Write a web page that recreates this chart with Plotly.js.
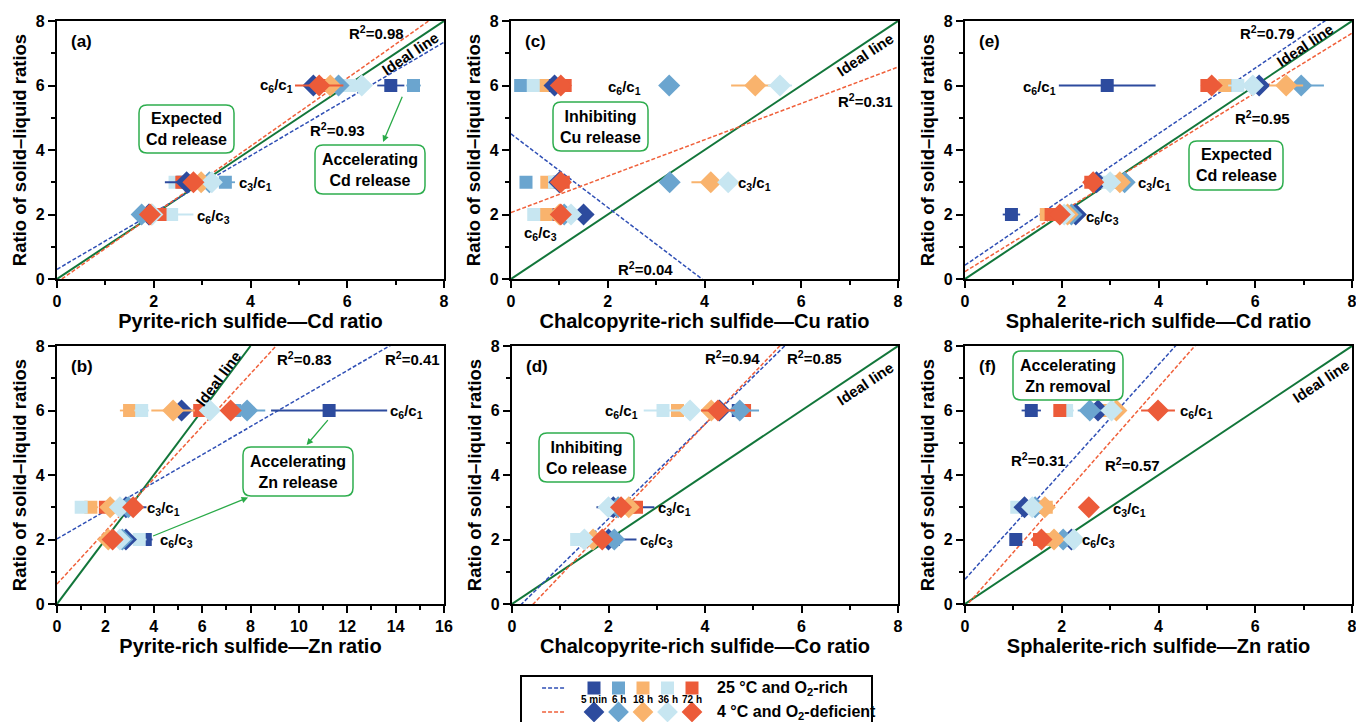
<!DOCTYPE html>
<html><head><meta charset="utf-8">
<script src="https://cdn.plot.ly/plotly-3.0.1.min.js"></script>
<style>html,body{margin:0;padding:0;background:#fff;}#chart{width:1356px;height:722px;}</style>
</head><body><div id="chart"></div>
<script>
// ---------------- DATA ----------------
const times = ['5 min', '6 h', '18 h', '36 h', '72 h'];
const timeColors = ['#2D4B9E', '#6BA5CF', '#F9B36D', '#C7E6F1', '#EC5B39'];
const rowY = [2, 3, 6];                       // c6/c3, c3/c1, c6/c1
const rowLabels = ['c<sub>6</sub>/c<sub>3</sub>', 'c<sub>3</sub>/c<sub>1</sub>', 'c<sub>6</sub>/c<sub>1</sub>'];

// rows = times, columns = rowY ; squares = 25 °C & O2-rich, diamonds = 4 °C & O2-deficient
// (a) Pyrite-rich — Cd
const a_sq     = [[2.10, 2.60, 6.90], [2.00, 3.48, 7.37], [2.10, 3.00, 5.95], [2.37, 2.44, 6.05], [2.13, 2.58, 5.50]];
const a_sqErr  = [[0, 0, 0.28], [0, 0.20, 0.15], [0, 0, 0.10], [0.45, 0, 0], [0, 0, 0]];
const a_dia    = [[1.90, 2.68, 5.30], [1.75, 3.15, 5.82], [1.95, 2.98, 5.65], [1.97, 3.20, 6.30], [1.92, 2.82, 5.42]];
const a_diaErr = [[0, 0.45, 0], [0, 0, 0], [0, 0, 0], [0, 0, 0], [0, 0, 0.50]];
// (b) Pyrite-rich — Zn
const b_sq     = [[3.65, 2.70, 11.25], [2.75, 2.90, 7.35], [2.20, 1.40, 3.00], [3.40, 1.00, 3.50], [2.50, 2.00, 5.90]];
const b_sqErr  = [[0.30, 0, 2.40], [0, 0, 0.30], [0, 0.30, 0.40], [0.30, 0, 0.30], [0, 0, 0.30]];
const b_dia    = [[2.85, 2.85, 5.15], [2.70, 2.95, 7.86], [2.12, 2.20, 4.80], [2.60, 2.60, 6.32], [2.30, 3.15, 7.18]];
const b_diaErr = [[0, 0.85, 0], [0, 0, 0.75], [0, 0, 0.90], [0, 0, 0], [0, 0, 0]];
// (c) Chalcopyrite-rich — Cu
const c_sq     = [[0.90, 1.00, 0.85], [0.80, 0.31, 0.20], [0.72, 0.74, 0.65], [0.47, 0.90, 0.46], [1.00, 1.08, 1.12]];
const c_sqErr  = [[0, 0, 0], [0, 0, 0], [0, 0, 0], [0, 0, 0], [0, 0, 0]];
const c_dia    = [[1.50, 1.00, 0.90], [1.10, 3.28, 3.27], [1.00, 4.13, 5.05], [1.24, 4.49, 5.56], [1.03, 1.03, 1.03]];
const c_diaErr = [[0.20, 0, 0], [0, 0, 0], [0, 0.40, 0.50], [0, 0, 0.25], [0, 0, 0]];
// (d) Chalcopyrite-rich — Co
const d_sq     = [[2.10, 2.35, 4.69], [2.05, 2.40, 4.75], [1.62, 2.45, 3.43], [1.34, 2.30, 3.13], [1.90, 2.58, 4.82]];
const d_sqErr  = [[0.48, 0.60, 0.20], [0, 0, 0], [0, 0, 0], [0, 0, 0.40], [0, 0, 0]];
const d_dia    = [[2.00, 2.10, 4.30], [2.12, 2.20, 4.72], [1.68, 2.42, 4.13], [1.50, 2.00, 3.69], [1.87, 2.26, 4.27]];
const d_diaErr = [[0, 0, 0], [0, 0, 0.40], [0, 0, 0], [0, 0, 0], [0, 0, 0.35]];
// (e) Sphalerite-rich — Cd
const e_sq     = [[0.96, 2.70, 2.94], [1.90, 3.10, 5.60], [1.68, 3.10, 5.37], [1.80, 2.92, 5.64], [1.78, 2.60, 5.00]];
const e_sqErr  = [[0.18, 0, 1.00], [0, 0, 0], [0, 0, 0], [0, 0, 0.20], [0, 0, 0]];
const e_dia    = [[2.29, 2.72, 6.08], [2.20, 3.30, 6.95], [2.12, 3.20, 6.64], [2.05, 3.00, 5.95], [1.96, 2.65, 5.10]];
const e_diaErr = [[0, 0, 0], [0, 0, 0.47], [0, 0, 0.35], [0, 0, 0], [0, 0, 0]];
// (f) Sphalerite-rich — Zn
const f_sq     = [[1.05, 1.30, 1.37], [2.00, 1.40, 2.80], [1.75, 1.68, 2.90], [1.90, 1.07, 2.10], [1.54, 1.60, 1.96]];
const f_sqErr  = [[0, 0, 0.20], [0, 0, 0], [0, 0, 0], [0, 0, 0.15], [0, 0, 0]];
const f_dia    = [[2.20, 1.23, 2.75], [2.03, 1.45, 2.58], [1.84, 1.65, 3.13], [2.25, 1.39, 3.03], [1.58, 2.56, 3.99]];
const f_diaErr = [[0, 0, 0], [0, 0, 0.25], [0, 0, 0], [0, 0, 0], [0, 0, 0.35]];

// regression lines [intercept, slope]
const fitRich = {a: [0.30, 0.88], b: [2.02, 0.435], c: [4.50, -1.14], d: [-0.294, 1.468], e: [0.43, 1.018], f: [0.77, 1.662]};
const fitDef  = {a: [-0.105, 1.055], b: [0.62, 0.815], c: [2.06, 0.564], d: [-0.69, 1.566], e: [0.23, 0.924], f: [-0.10, 1.706]};
const r2Rich  = {a: '0.93', b: '0.41', c: '0.04', d: '0.85', e: '0.79', f: '0.31'};
const r2Def   = {a: '0.98', b: '0.83', c: '0.31', d: '0.94', e: '0.95', f: '0.57'};

const xTitles = {
  a: 'Pyrite-rich sulfide—Cd ratio', c: 'Chalcopyrite-rich sulfide—Cu ratio', e: 'Sphalerite-rich sulfide—Cd ratio',
  b: 'Pyrite-rich sulfide—Zn ratio', d: 'Chalcopyrite-rich sulfide—Co ratio', f: 'Sphalerite-rich sulfide—Zn ratio'
};
const xMax = {a: 8, b: 16, c: 8, d: 8, e: 8, f: 8};
const condLabels = ['25 °C and O<sub>2</sub>-rich', '4 °C and O<sub>2</sub>-deficient'];

// ---------------- LAYOUT HELPERS ----------------
const W = 1356, H = 722;
const FONT = 'Liberation Sans, Arial, sans-serif';
const BLUE_FIT = '#2F4FB5', RED_FIT = '#F0603A', IDEAL = '#12763A', BOXG = '#2EAD4E';
const PX = p => p / W, PY = p => 1 - p / H;

const panels = {
  a: {n: 1, dom: [57, 444], row: 0}, c: {n: 2, dom: [511, 898], row: 0}, e: {n: 3, dom: [965, 1352], row: 0},
  b: {n: 4, dom: [57, 444], row: 1}, d: {n: 5, dom: [512, 898], row: 1}, f: {n: 6, dom: [965, 1352], row: 1}
};
const rowsPx = [[21, 279], [346, 604]];
const data = {
  a: [a_sq, a_sqErr, a_dia, a_diaErr], b: [b_sq, b_sqErr, b_dia, b_diaErr], c: [c_sq, c_sqErr, c_dia, c_diaErr],
  d: [d_sq, d_sqErr, d_dia, d_diaErr], e: [e_sq, e_sqErr, e_dia, e_diaErr], f: [f_sq, f_sqErr, f_dia, f_diaErr]
};

const traces = [];
const layout = {
  width: W, height: H, margin: {l: 0, r: 0, t: 0, b: 0},
  paper_bgcolor: '#fff', plot_bgcolor: '#fff', showlegend: false,
  font: {family: FONT, color: '#000', weight: 'bold'},
  annotations: [], shapes: []
};

function axisName(n, k) { return n === 1 ? k : k + n; }

for (const key of Object.keys(panels)) {
  const p = panels[key];
  const xa = axisName(p.n, 'x'), ya = axisName(p.n, 'y');
  const xl = 'xaxis' + (p.n === 1 ? '' : p.n), yl = 'yaxis' + (p.n === 1 ? '' : p.n);
  const rp = rowsPx[p.row];
  const common = {
    showline: true, linewidth: 2.2, linecolor: '#000', mirror: true, showgrid: false, zeroline: false,
    ticks: 'outside', ticklen: 7, tickwidth: 2, tickcolor: '#000',
    tickfont: {family: FONT, size: 16, weight: 'bold', color: '#000'},
    minor: {ticks: 'outside', ticklen: 4, tickwidth: 2, tickcolor: '#000', dtick: 1},
    ticklabeloverflow: 'allow',
    fixedrange: true
  };
  layout[xl] = Object.assign({}, common, {
    domain: [PX(p.dom[0]), PX(p.dom[1])], range: [0, xMax[key]], dtick: 2, anchor: ya,
    title: {text: xTitles[key], font: {family: FONT, size: 20, weight: 'bold', color: '#000'}, standoff: 2}
  });
  layout[yl] = Object.assign({}, common, {
    domain: [PY(rp[1]), PY(rp[0])], range: [0, 8], dtick: 2, anchor: xa,
    title: {text: 'Ratio of solid–liquid ratios', font: {family: FONT, size: 18.5, weight: 'bold', color: '#000'}, standoff: 4}
  });

  // ideal line y = x
  const idealEnd = Math.min(xMax[key], 8);
  traces.push({x: [0, idealEnd], y: [0, idealEnd], xaxis: xa, yaxis: ya, mode: 'lines',
    line: {color: IDEAL, width: 2}, hoverinfo: 'skip'});
  // regression lines
  const xs = [0, xMax[key]];
  traces.push({x: xs, y: xs.map(x => fitRich[key][0] + fitRich[key][1] * x), xaxis: xa, yaxis: ya, mode: 'lines',
    line: {color: BLUE_FIT, width: 1.5, dash: '4px,2px'}});
  traces.push({x: xs, y: xs.map(x => fitDef[key][0] + fitDef[key][1] * x), xaxis: xa, yaxis: ya, mode: 'lines',
    line: {color: RED_FIT, width: 1.5, dash: '4px,2px'}});

  const [sq, sqErr, dia, diaErr] = data[key];
  times.forEach((t, i) => {
    traces.push({x: sq[i], y: rowY, xaxis: xa, yaxis: ya, mode: 'markers', name: '25 °C ' + t,
      marker: {symbol: 'square', size: 13, color: timeColors[i], line: {width: 0}},
      error_x: {type: 'data', array: sqErr[i], color: timeColors[i], thickness: 1.8, width: 0}});
  });
  times.forEach((t, i) => {
    traces.push({x: dia[i], y: rowY, xaxis: xa, yaxis: ya, mode: 'markers', name: '4 °C ' + t,
      marker: {symbol: 'diamond', size: 17, color: timeColors[i], line: {width: 0}},
      error_x: {type: 'data', array: diaErr[i], color: timeColors[i], thickness: 1.8, width: 0}});
  });

  // panel letter
  layout.annotations.push({xref: xa + ' domain', yref: ya + ' domain', x: 0.03, y: 0.965, xanchor: 'left', yanchor: 'top',
    text: '(' + key + ')', showarrow: false, font: {family: FONT, size: 17, weight: 'bold'}});
}

// ---------------- ANNOTATIONS ----------------
function ann(key, x, y, text, extra) {
  const p = panels[key];
  layout.annotations.push(Object.assign({xref: axisName(p.n, 'x'), yref: axisName(p.n, 'y'), x: x, y: y, text: text,
    showarrow: false, font: {family: FONT, size: 15, weight: 'bold', color: '#000'}}, extra || {}));
}
// R² labels
const r2Pos = {
  a: [[5.80, 4.63], [6.60, 7.63]], b: [[14.70, 7.62], [10.25, 7.62]], c: [[2.77, 0.33], [7.33, 5.54]],
  d: [[6.27, 7.64], [4.56, 7.64]], e: [[6.26, 7.65], [6.14, 5.00]], f: [[1.51, 4.48], [3.46, 4.33]]
};
for (const k of Object.keys(r2Pos)) {
  ann(k, r2Pos[k][0][0], r2Pos[k][0][1], 'R<sup>2</sup>=' + r2Rich[k]);
  ann(k, r2Pos[k][1][0], r2Pos[k][1][1], 'R<sup>2</sup>=' + r2Def[k]);
}
// ideal line labels
const idealPos = {a: [7.30, 7.00, -33.7], b: [6.67, 7.00, -53.1], c: [7.32, 6.96, -33.7], d: [7.32, 6.84, -33.7], e: [7.02, 7.24, -33.7], f: [7.35, 6.90, -33.7]};
for (const k of Object.keys(idealPos)) ann(k, idealPos[k][0], idealPos[k][1], 'Ideal line', {textangle: idealPos[k][2]});
// ratio labels [c6/c3, c3/c1, c6/c1]
const rowLabelPos = {
  a: [[3.23, 1.93], [4.10, 2.96], [4.53, 6.00]], b: [[4.92, 1.97], [4.40, 2.97], [14.45, 5.96]],
  c: [[0.60, 1.40], [5.04, 2.96], [2.35, 5.95]], d: [[3.00, 1.96], [3.37, 2.97], [2.27, 5.97]],
  e: [[2.85, 1.90], [3.92, 2.96], [1.54, 5.93]], f: [[2.75, 1.96], [3.40, 2.92], [4.78, 5.97]]
};
for (const k of Object.keys(rowLabelPos)) rowLabelPos[k].forEach((pos, j) => ann(k, pos[0], pos[1], rowLabels[j]));

// boxed notes (pixel boxes)
function rbox(x0, y0, x1, y1, r) {
  const f = (x, y) => PX(x).toFixed(5) + ',' + PY(y).toFixed(5);
  return 'M' + f(x0 + r, y0) + ' L' + f(x1 - r, y0) + ' Q' + f(x1, y0) + ' ' + f(x1, y0 + r) +
    ' L' + f(x1, y1 - r) + ' Q' + f(x1, y1) + ' ' + f(x1 - r, y1) + ' L' + f(x0 + r, y1) +
    ' Q' + f(x0, y1) + ' ' + f(x0, y1 - r) + ' L' + f(x0, y0 + r) + ' Q' + f(x0, y0) + ' ' + f(x0 + r, y0) + ' Z';
}
const notes = [
  [[139, 105, 234, 153], 'Expected<br>Cd release'],
  [[315, 145, 425, 194], 'Accelerating<br>Cd release'],
  [[243, 447, 353, 496], 'Accelerating<br>Zn release'],
  [[553, 102, 648, 151], 'Inhibiting<br>Cu release'],
  [[539, 433, 634, 482], 'Inhibiting<br>Co release'],
  [[1189, 141, 1283, 190], 'Expected<br>Cd release'],
  [[1013, 351, 1123, 400], 'Accelerating<br>Zn removal']
];
notes.forEach(([b, t]) => {
  layout.shapes.push({type: 'path', xref: 'paper', yref: 'paper', path: rbox(b[0], b[1], b[2], b[3], 8),
    line: {color: BOXG, width: 1.5}, fillcolor: 'rgba(255,255,255,0)'});
  layout.annotations.push({xref: 'paper', yref: 'paper', x: PX((b[0] + b[2]) / 2), y: PY((b[1] + b[3]) / 2),
    xanchor: 'center', yanchor: 'middle', text: t, showarrow: false,
    font: {family: FONT, size: 16, weight: 'bold', color: '#000'}});
});
// green arrows [panel, head x, head y, tail x, tail y]
const arrows = [['a', 6.74, 4.25, 7.15, 5.70], ['b', 10.32, 4.93, 11.25, 5.75], ['b', 7.90, 3.30, 3.91, 2.09]];
arrows.forEach(([k, hx, hy, tx, ty]) => {
  const n = panels[k].n;
  layout.annotations.push({xref: axisName(n, 'x'), yref: axisName(n, 'y'), axref: axisName(n, 'x'), ayref: axisName(n, 'y'),
    x: hx, y: hy, ax: tx, ay: ty, text: '', showarrow: true, arrowhead: 2, arrowsize: 1, arrowwidth: 1.3, arrowcolor: '#2AAA48'});
});

// ---------------- LEGEND (own hidden axes) ----------------
layout.xaxis7 = {domain: [PX(521), PX(872)], range: [(521 - 594) / 24.5, (872 - 594) / 24.5], visible: false, fixedrange: true, anchor: 'y7'};
layout.yaxis7 = {domain: [0, PY(676)], range: [1.4167, -0.5], visible: false, fixedrange: true, anchor: 'x7'};
layout.shapes.push({type: 'rect', xref: 'paper', yref: 'paper', x0: PX(521), x1: PX(872), y0: PY(676), y1: -0.05,
  line: {color: '#000', width: 2}, fillcolor: 'rgba(0,0,0,0)'});
const legendIdx = times.map((t, i) => i);
traces.push({x: legendIdx, y: legendIdx.map(() => 0), xaxis: 'x7', yaxis: 'y7', mode: 'markers',
  marker: {symbol: 'square', size: 13, color: timeColors}, hoverinfo: 'skip'});
traces.push({x: legendIdx, y: legendIdx.map(() => 1), xaxis: 'x7', yaxis: 'y7', mode: 'markers',
  marker: {symbol: 'diamond', size: 16, color: timeColors}, hoverinfo: 'skip'});
[[0, BLUE_FIT], [1, RED_FIT]].forEach(([yy, col]) => {
  layout.shapes.push({type: 'line', xref: 'x7', yref: 'y7', x0: -2.12, x1: -1.18, y0: yy, y1: yy,
    line: {color: col, width: 1.5, dash: '4px,2px'}});
});
times.forEach((t, i) => layout.annotations.push({xref: 'x7', yref: 'y7', x: i, y: 0.48, text: t, showarrow: false,
  font: {family: FONT, size: 10, weight: 'bold', color: '#000'}}));
condLabels.forEach((t, j) => layout.annotations.push({xref: 'x7', yref: 'y7', x: 4.92, y: j, xanchor: 'left', text: t,
  showarrow: false, font: {family: FONT, size: 16, weight: 'bold', color: '#000'}}));

Plotly.newPlot('chart', traces, layout, {staticPlot: true, displayModeBar: false});
</script></body></html>
